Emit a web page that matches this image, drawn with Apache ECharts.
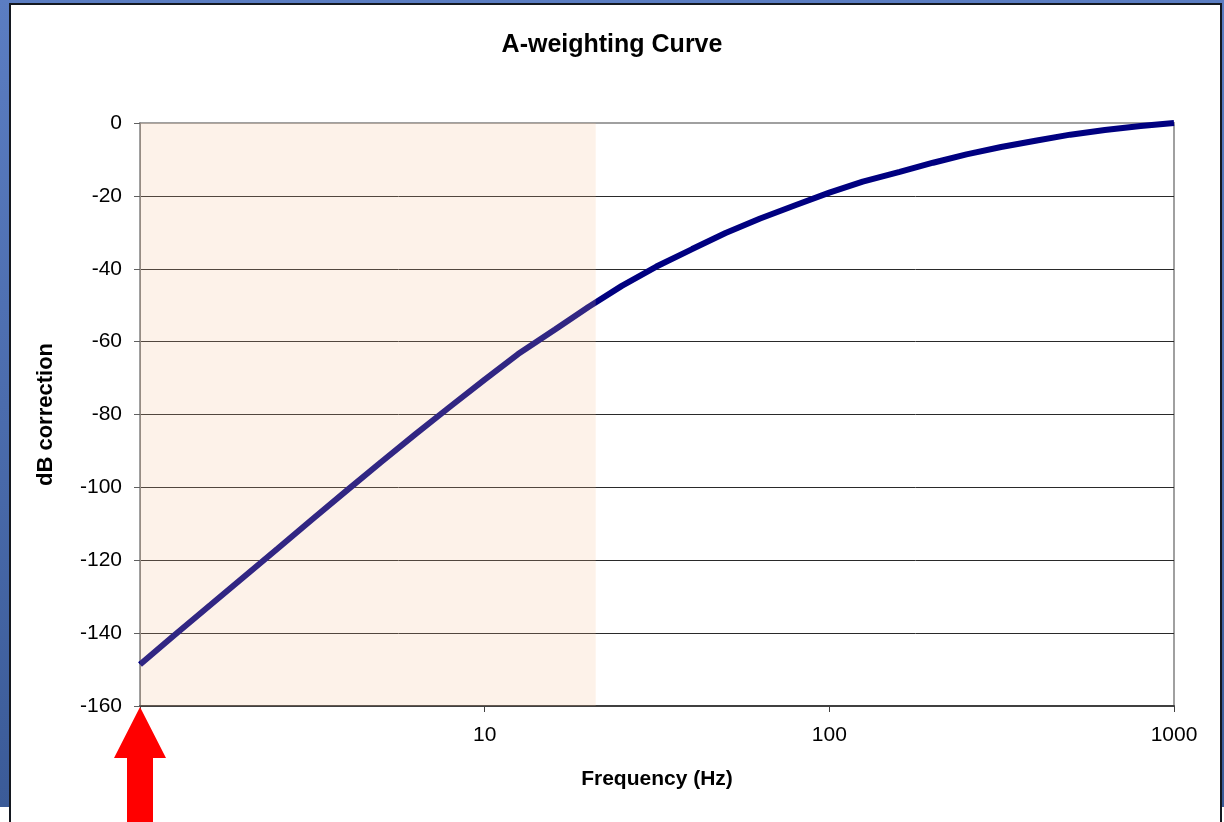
<!DOCTYPE html>
<html>
<head>
<meta charset="utf-8">
<script src="https://cdn.jsdelivr.net/npm/echarts@6/dist/echarts.min.js"></script>
<style>
  html, body { margin: 0; padding: 0; background: #fff; }
  #slide { position: absolute; left: 0; top: 0; width: 1224px; height: 807px;
    background: linear-gradient(#5b7dc2, #3b5b98); }
  #box { position: absolute; left: 9px; top: 3px; width: 1213px; height: 840px;
    background: #fff; border: 2px solid #141820; box-sizing: border-box; }
  #main { position: absolute; left: 0; top: 0; width: 1224px; height: 822px; overflow: hidden; }
</style>
</head>
<body>
<div id="slide"></div>
<div id="box"></div>
<div id="main"></div>
<script>
// third-octave centre frequencies (Hz)
const freqs = [1, 1.25, 1.6, 2, 2.5, 3.15, 4, 5, 6.3, 8,
    10, 12.5, 16, 20, 25, 31.5, 40, 50, 63, 80,
    100, 125, 160, 200, 250, 315, 400, 500, 630, 800, 1000]
// A-weighting correction (dB)
const dbA = [-148.6, -140.8, -132.3, -124.6, -116.9, -108.9, -100.7, -93.1, -85.4, -77.6,
    -70.4, -63.4, -56.7, -50.5, -44.7, -39.4, -34.6, -30.2, -26.2, -22.5,
    -19.1, -16.1, -13.4, -10.9, -8.6, -6.6, -4.8, -3.2, -1.9, -0.8, 0]
// shaded band (below audible range)
const bandFrom = 1
const bandTo = 21

const font = "'Liberation Sans', Arial, sans-serif"
const points = freqs.map((f, i) => [f, dbA[i]])

const chart = echarts.init(document.getElementById('main'), null, { renderer: 'canvas' })

const option = {
    backgroundColor: 'transparent',
    animation: false,
    title: {
        text: 'A-weighting Curve',
        left: 'center',
        top: 28,
        textStyle: { fontFamily: font, fontSize: 25, fontWeight: 'bold', color: '#000' }
    },
    grid: {
        left: 140, right: 50, top: 123, bottom: 116,
        show: true, borderColor: '#a0a0a0', borderWidth: 2
    },
    xAxis: {
        type: 'log',
        logBase: 10,
        min: 1,
        max: 1000,
        name: 'Frequency (Hz)',
        nameLocation: 'middle',
        nameGap: 63,
        nameTextStyle: { fontFamily: font, fontSize: 21, fontWeight: 'bold', color: '#000' },
        axisLine: { onZero: false, lineStyle: { color: '#404040', width: 2 } },
        axisTick: { show: true, length: 6, lineStyle: { color: '#404040' } },
        axisLabel: {
            margin: 19,
            fontFamily: font, fontSize: 21, color: '#000',
            formatter: v => (v === 1 ? '' : String(v))
        },
        splitLine: { show: false },
        minorTick: { show: false }
    },
    yAxis: {
        type: 'value',
        min: -160,
        max: 0,
        interval: 20,
        name: 'dB correction',
        nameLocation: 'middle',
        nameGap: 83,
        nameTextStyle: { fontFamily: font, fontSize: 22, fontWeight: 'bold', color: '#000' },
        axisLine: { show: true, onZero: false, lineStyle: { color: '#808080', width: 1 } },
        axisTick: { show: true, length: 6, lineStyle: { color: '#606060' } },
        axisLabel: { margin: 18, fontFamily: font, fontSize: 21, color: '#000' },
        splitLine: { show: true, showMaxLine: false, lineStyle: { color: '#2a2a2a', width: 1 } }
    },
    series: [
        {
            name: 'A-weighting',
            type: 'line',
            data: points,
            smooth: false,
            showSymbol: false,
            z: 3,
            lineStyle: { color: '#000080', width: 6 }
        },
        {
            // carries the shaded band so it sits over the curve like the original
            name: 'band',
            type: 'line',
            data: points,
            showSymbol: false,
            silent: true,
            z: 5,
            lineStyle: { opacity: 0 },
            markArea: {
                silent: true,
                z: 10,
                itemStyle: { color: 'rgba(245,190,145,0.2)' },
                data: [[{ xAxis: bandFrom }, { xAxis: bandTo }]]
            }
        }
    ]
}
chart.setOption(option)

// red arrow pointing at the 1 Hz end of the axis
const tip = chart.convertToPixel({ gridIndex: 0 }, [bandFrom, -160])
const tx = tip[0], ty = tip[1] + 1
chart.setOption({
    graphic: [{
        type: 'polygon',
        z: 100,
        shape: {
            points: [
                [tx, ty], [tx + 26, ty + 51], [tx + 13, ty + 51], [tx + 13, 830],
                [tx - 13, 830], [tx - 13, ty + 51], [tx - 26, ty + 51]
            ]
        },
        style: { fill: '#ff0000' }
    }]
})
</script>
</body>
</html>
